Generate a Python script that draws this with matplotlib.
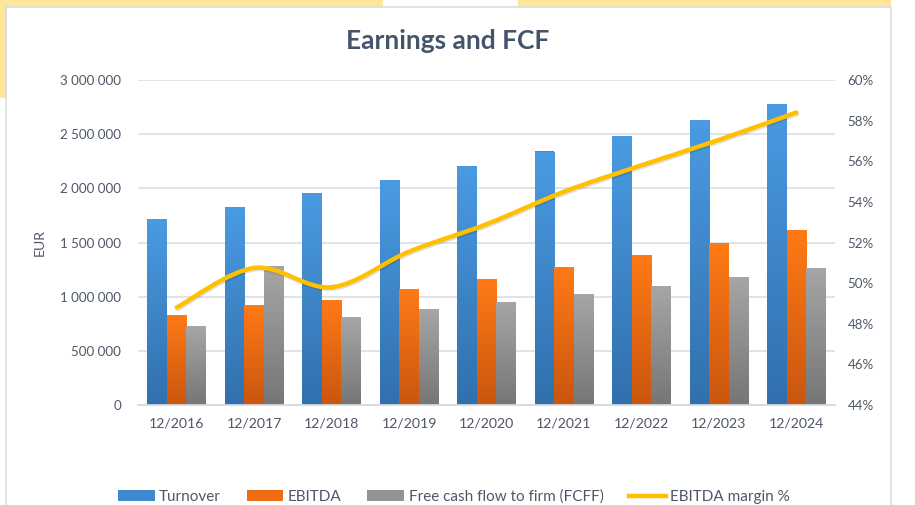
import numpy as np
import matplotlib
matplotlib.use("Agg")
import matplotlib.pyplot as plt
import matplotlib.transforms as mtransforms
from matplotlib.colors import LinearSegmentedColormap
from matplotlib.patches import Rectangle, Patch, PathPatch
from matplotlib.lines import Line2D
from matplotlib.path import Path

plt.rcParams['font.family'] = ['Lato', 'DejaVu Sans']

categories = ["12/2016", "12/2017", "12/2018", "12/2019", "12/2020",
              "12/2021", "12/2022", "12/2023", "12/2024"]
turnover = [1714000, 1828000, 1953000, 2075000, 2208000, 2340000, 2479000, 2629000, 2777000]
ebitda = [828000, 926000, 969000, 1068000, 1166000, 1274000, 1382000, 1495000, 1618000]
fcff = [729000, 1283000, 812000, 886000, 951000, 1025000, 1098000, 1182000, 1265000]
margin_pct = [48.8, 50.75, 49.8, 51.55, 52.9, 54.5, 55.8, 57.05, 58.4]

series_names = ["Turnover", "EBITDA", "Free cash flow to firm (FCFF)", "EBITDA margin %"]
left_ticks = [0, 500000, 1000000, 1500000, 2000000, 2500000, 3000000]
right_ticks = [44, 46, 48, 50, 52, 54, 56, 58, 60]

W, H = 915, 505
fig = plt.figure(figsize=(W / 100, H / 100), dpi=100)
fig.patch.set_facecolor("white")

# spreadsheet remnants behind the chart
def px_rect(x0, y0, x1, y1, **kw):
    fig.patches.append(Rectangle((x0 / W, 1 - y1 / H), (x1 - x0) / W, (y1 - y0) / H,
                                 transform=fig.transFigure, **kw))

px_rect(0, 0, 383, 7, facecolor="#FFE699", edgecolor="none", zorder=-3)
px_rect(518, 0, 891, 7, facecolor="#FFE699", edgecolor="none", zorder=-3)
px_rect(0, 0, 6, 98, facecolor="#FFE699", edgecolor="none", zorder=-3)
# chart area border
px_rect(6, 7, 891, 520, facecolor="white", edgecolor="#D9DDE3", lw=1.2, zorder=-2)

ax = fig.add_axes([138 / W, 1 - 405 / H, (835 - 138) / W, (405 - 80) / H])
ax.set_facecolor("none")
x = np.arange(len(categories))
bw = 0.252

text_col = "#4F5868"
fs = 9.6

cmaps = [
    LinearSegmentedColormap.from_list("t", ["#3170AD", "#4A9BE2"]),
    LinearSegmentedColormap.from_list("e", ["#C9560F", "#FF7A16"]),
    LinearSegmentedColormap.from_list("f", ["#767676", "#A6A6A6"]),
]
base_cols = ["#3F88CF", "#EE6C13", "#939393"]
grad = np.linspace(0, 1, 256).reshape(-1, 1)

for k, (vals, off) in enumerate([(turnover, -bw), (ebitda, 0.0), (fcff, bw)]):
    bars = ax.bar(x + off, vals, width=bw, color=base_cols[k], zorder=2, linewidth=0)
    for b in bars:
        x0 = b.get_x()
        h = b.get_height()
        im = ax.imshow(grad, extent=(x0, x0 + b.get_width(), 0, h), origin="lower",
                       aspect="auto", cmap=cmaps[k], zorder=2.1, interpolation="bicubic")
        im.set_clip_path(b)

ax.set_xlim(-0.5, len(categories) - 0.5)
ax.set_ylim(0, 3000000)
ax.set_yticks(left_ticks)
ax.set_yticklabels([f"{v:,.0f}".replace(",", " ") for v in left_ticks])
ax.set_xticks(x)
ax.set_xticklabels(categories)
ax.tick_params(axis="y", length=0, pad=12, labelsize=fs, labelcolor=text_col)
ax.tick_params(axis="x", length=0, pad=9, labelsize=fs + 0.6, labelcolor=text_col)
ax.grid(axis="y", color="#DDE2E8", lw=1.3, zorder=0)
ax.set_axisbelow(True)
for s in ["top", "right", "left"]:
    ax.spines[s].set_visible(False)
ax.spines["bottom"].set_color("#D4DAE2")
ax.spines["bottom"].set_linewidth(1.3)

ax2 = ax.twinx()
ax2.set_ylim(44, 60)
ax2.set_yticks(right_ticks)
ax2.set_yticklabels([f"{v}%" for v in right_ticks])
ax2.tick_params(axis="y", length=0, pad=9, labelsize=fs, labelcolor=text_col)
for s in ["top", "right", "left", "bottom"]:
    ax2.spines[s].set_visible(False)

# smoothed line (Bezier through data points, Excel-style)
px_ = list(x.astype(float))
py_ = list(margin_pct)
n = len(px_)
verts = [(px_[0], py_[0])]
codes = [Path.MOVETO]
for i in range(n - 1):
    p0 = (px_[max(i - 1, 0)], py_[max(i - 1, 0)])
    p1 = (px_[i], py_[i])
    p2 = (px_[i + 1], py_[i + 1])
    p3 = (px_[min(i + 2, n - 1)], py_[min(i + 2, n - 1)])
    c1 = (p1[0] + (p2[0] - p0[0]) / 6, p1[1] + (p2[1] - p0[1]) / 6)
    c2 = (p2[0] - (p3[0] - p1[0]) / 6, p2[1] - (p3[1] - p1[1]) / 6)
    verts += [c1, c2, p2]
    codes += [Path.CURVE4] * 3
path = Path(verts, codes)
shadow = PathPatch(path, facecolor="none", edgecolor="#000000", lw=3.2, alpha=0.12,
                   capstyle="round", zorder=3)
shadow.set_transform(ax2.transData + mtransforms.ScaledTranslation(1 / 100, -1.5 / 100, fig.dpi_scale_trans))
ax2.add_patch(shadow)
ax2.add_patch(PathPatch(path, facecolor="none", edgecolor="#FFC000", lw=3.2,
                        capstyle="round", zorder=4))

fig.text(448 / W, 1 - 41 / H, "Earnings and FCF", ha="center", va="center",
         fontsize=19, fontweight="bold", color="#44546A")
fig.text(40 / W, 1 - 243 / H, "EUR", rotation=90, ha="center", va="center",
         fontsize=fs + 0.6, color=text_col)

handles = [Patch(facecolor=base_cols[0]), Patch(facecolor=base_cols[1]),
           Patch(facecolor=base_cols[2]), Line2D([], [], color="#FFC000", lw=3.2)]
fig.legend(handles, series_names, loc="center", bbox_to_anchor=(0.4962, 1 - 497 / H),
           ncol=4, frameon=False, fontsize=11, labelcolor=text_col,
           handlelength=2.4, handleheight=0.75, handletextpad=0.3, columnspacing=1.68)

fig.savefig("out.png", dpi=100, facecolor="white")
